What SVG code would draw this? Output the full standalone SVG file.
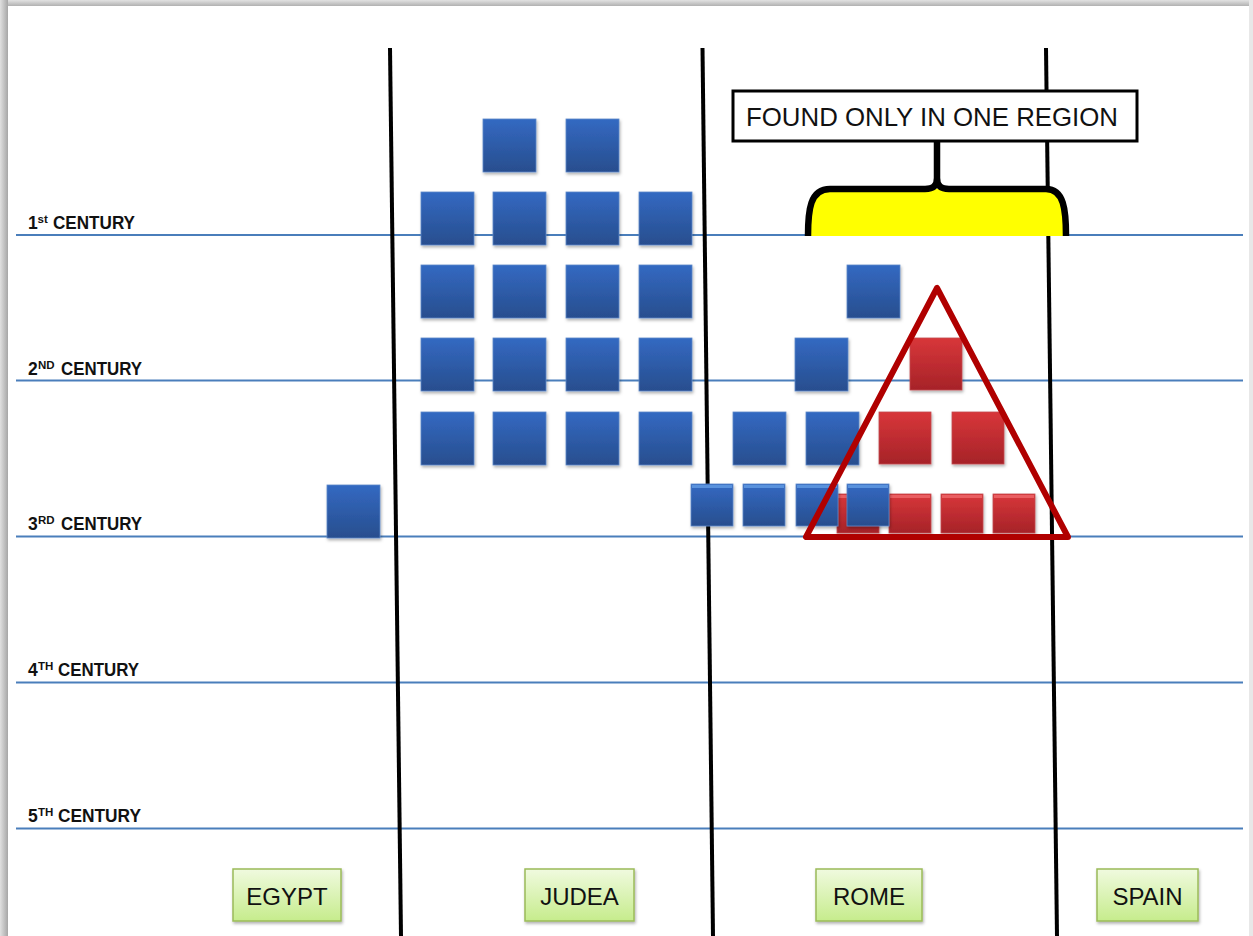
<svg xmlns="http://www.w3.org/2000/svg" width="1253" height="936" viewBox="0 0 1253 936">
<defs>
<linearGradient id="bg" x1="0" y1="0" x2="0" y2="1"><stop offset="0" stop-color="#e2e2e2"/><stop offset="1" stop-color="#a9a9a9"/></linearGradient>
<linearGradient id="bgl" x1="0" y1="0" x2="1" y2="0"><stop offset="0" stop-color="#e0e0e0"/><stop offset="1" stop-color="#a6a6a6"/></linearGradient>
<linearGradient id="blue" x1="0" y1="0" x2="0" y2="1"><stop offset="0" stop-color="#3369c2"/><stop offset="1" stop-color="#284e8e"/></linearGradient>
<linearGradient id="red" x1="0" y1="0" x2="0" y2="1"><stop offset="0" stop-color="#d8363a"/><stop offset="1" stop-color="#a62328"/></linearGradient>
<linearGradient id="green" x1="0" y1="0" x2="0" y2="1"><stop offset="0" stop-color="#f0fadf"/><stop offset="1" stop-color="#c6ec8c"/></linearGradient>
<filter id="sh" x="-20%" y="-20%" width="150%" height="150%"><feDropShadow dx="1" dy="2" stdDeviation="1.5" flood-color="#000" flood-opacity="0.3"/></filter>
</defs>
<style>
.hl{stroke:#4a7ebb;stroke-width:2}
.vl{stroke:#000;stroke-width:4}
.b{fill:url(#blue);stroke:#5d88c9;stroke-width:0.8;filter:url(#sh)}
.r{fill:url(#red);stroke:#c24a4e;stroke-width:0.8;filter:url(#sh)}
.hb{fill:#6aa4ea;opacity:0.7}
.hr{fill:#f27073;opacity:0.7}
.cen{font-family:"Liberation Sans",Arial,sans-serif;font-weight:bold;fill:#111}
.reg{fill:url(#green);stroke:#9bbb59;stroke-width:1.5;filter:url(#sh)}
.rt{font-family:"Liberation Sans",Arial,sans-serif;font-size:24px;fill:#111;text-anchor:middle}
</style>
<rect x="0" y="0" width="1253" height="936" fill="#fff"/>
<rect x="0" y="0" width="1253" height="7" fill="url(#bg)"/>
<rect x="0" y="0" width="8" height="936" fill="url(#bgl)"/>
<rect x="1249" y="0" width="4" height="936" fill="#e8e8e8"/>
<rect x="8" y="6" width="1241" height="930" fill="#fff"/>

<g id="century-lines">
<line class="hl" x1="16" y1="235" x2="1243" y2="235"/>
<line class="hl" x1="16" y1="380.5" x2="1243" y2="380.5"/>
<line class="hl" x1="16" y1="536.5" x2="1243" y2="536.5"/>
<line class="hl" x1="16" y1="682.5" x2="1243" y2="682.5"/>
<line class="hl" x1="16" y1="828.5" x2="1243" y2="828.5"/>
</g>
<g id="century-labels">
<g id="c1"><text class="cen" x="28" y="229" font-size="17.5">1</text><text class="cen" x="37.5" y="223" font-size="11.5">st</text><text class="cen" x="53" y="229" font-size="17.5" textLength="82" lengthAdjust="spacingAndGlyphs">CENTURY</text></g>
<g id="c2"><text class="cen" x="28" y="375" font-size="17.5">2</text><text class="cen" x="38" y="369" font-size="11.5">ND</text><text class="cen" x="61" y="375" font-size="17.5" textLength="81" lengthAdjust="spacingAndGlyphs">CENTURY</text></g>
<g id="c3"><text class="cen" x="28" y="530" font-size="17.5">3</text><text class="cen" x="38" y="524" font-size="11.5">RD</text><text class="cen" x="61" y="530" font-size="17.5" textLength="81" lengthAdjust="spacingAndGlyphs">CENTURY</text></g>
<g id="c4"><text class="cen" x="28" y="676" font-size="17.5">4</text><text class="cen" x="38" y="670" font-size="11.5">TH</text><text class="cen" x="58" y="676" font-size="17.5" textLength="81" lengthAdjust="spacingAndGlyphs">CENTURY</text></g>
<g id="c5"><text class="cen" x="28" y="822" font-size="17.5">5</text><text class="cen" x="38" y="816" font-size="11.5">TH</text><text class="cen" x="58" y="822" font-size="17.5" textLength="83" lengthAdjust="spacingAndGlyphs">CENTURY</text></g>
</g>
<g id="region-dividers">
<line class="vl" x1="390" y1="48" x2="401" y2="936"/>
<line class="vl" x1="702.5" y1="48" x2="713" y2="936"/>
<line class="vl" x1="1046" y1="48" x2="1057" y2="936"/>
</g>

<g id="egypt-blocks">
<rect class="b" x="327" y="485" width="53" height="53"/>
</g>
<g id="judea-blocks">
<rect class="b" x="483" y="119" width="53" height="53"/>
<rect class="b" x="566" y="119" width="53" height="53"/>
<rect class="b" x="421" y="192" width="53" height="53"/><rect class="b" x="493" y="192" width="53" height="53"/><rect class="b" x="566" y="192" width="53" height="53"/><rect class="b" x="639" y="192" width="53" height="53"/>
<rect class="b" x="421" y="265" width="53" height="53"/><rect class="b" x="493" y="265" width="53" height="53"/><rect class="b" x="566" y="265" width="53" height="53"/><rect class="b" x="639" y="265" width="53" height="53"/>
<rect class="b" x="421" y="338" width="53" height="53"/><rect class="b" x="493" y="338" width="53" height="53"/><rect class="b" x="566" y="338" width="53" height="53"/><rect class="b" x="639" y="338" width="53" height="53"/>
<rect class="b" x="421" y="412" width="53" height="53"/><rect class="b" x="493" y="412" width="53" height="53"/><rect class="b" x="566" y="412" width="53" height="53"/><rect class="b" x="639" y="412" width="53" height="53"/>
</g>
<g id="rome-blocks">
<rect class="b" x="847" y="265" width="53" height="53"/>
<rect class="b" x="795" y="338" width="53" height="53"/>
<rect class="b" x="733" y="412" width="53" height="53"/>
<rect class="b" x="806" y="412" width="53" height="53"/>
<rect class="r" x="910" y="338" width="52" height="52"/>
<rect class="r" x="879" y="412" width="52" height="52"/>
<rect class="r" x="952" y="412" width="52" height="52"/>
<rect class="r" x="837" y="494" width="42" height="39"/><rect class="hr" x="838" y="495" width="40" height="3"/>
<rect class="r" x="889" y="494" width="42" height="39"/><rect class="hr" x="890" y="495" width="40" height="3"/>
<rect class="r" x="941" y="494" width="42" height="39"/><rect class="hr" x="942" y="495" width="40" height="3"/>
<rect class="r" x="993" y="494" width="42" height="39"/><rect class="hr" x="994" y="495" width="40" height="3"/>
<rect class="b" x="691" y="484" width="42" height="42"/><rect class="hb" x="692" y="485" width="40" height="3"/>
<rect class="b" x="743" y="484" width="42" height="42"/><rect class="hb" x="744" y="485" width="40" height="3"/>
<rect class="b" x="796" y="484" width="42" height="42"/><rect class="hb" x="797" y="485" width="40" height="3"/>
<rect class="b" x="847" y="484" width="42" height="42"/><rect class="hb" x="848" y="485" width="40" height="3"/>
</g>
<g id="highlight-triangle">
<polygon points="937,288 806,537 1068,537" fill="none" stroke="#b00000" stroke-width="6" stroke-linejoin="round"/>
</g>

<g id="callout">
<path d="M 808 236 C 808 210 810 189 830 189 L 1046 189 C 1064 189 1066 210 1066 236 Z" fill="#ffff00"/>
<path d="M 808 236 C 808 210 810 189 830 189 L 925 189 C 933 189 937 186 937 178 L 937 141 M 937 178 C 937 186 941 189 949 189 L 1046 189 C 1064 189 1066 210 1066 236" fill="none" stroke="#000" stroke-width="6.5"/>
<rect x="733" y="91" width="404" height="50" fill="#fff" stroke="#000" stroke-width="3"/>
<text x="746" y="126" font-family="Liberation Sans, Arial, sans-serif" font-size="26" fill="#111" textLength="372" lengthAdjust="spacingAndGlyphs">FOUND ONLY IN ONE REGION</text>
</g>

<g id="region-egypt"><rect class="reg" x="233" y="869" width="108" height="52"/><text class="rt" x="287" y="905">EGYPT</text></g>
<g id="region-judea"><rect class="reg" x="525" y="869" width="109" height="52"/><text class="rt" x="579.5" y="905">JUDEA</text></g>
<g id="region-rome"><rect class="reg" x="816" y="869" width="106" height="52"/><text class="rt" x="869" y="905">ROME</text></g>
<g id="region-spain"><rect class="reg" x="1097" y="869" width="101" height="52"/><text class="rt" x="1147.5" y="905">SPAIN</text></g>
</svg>
